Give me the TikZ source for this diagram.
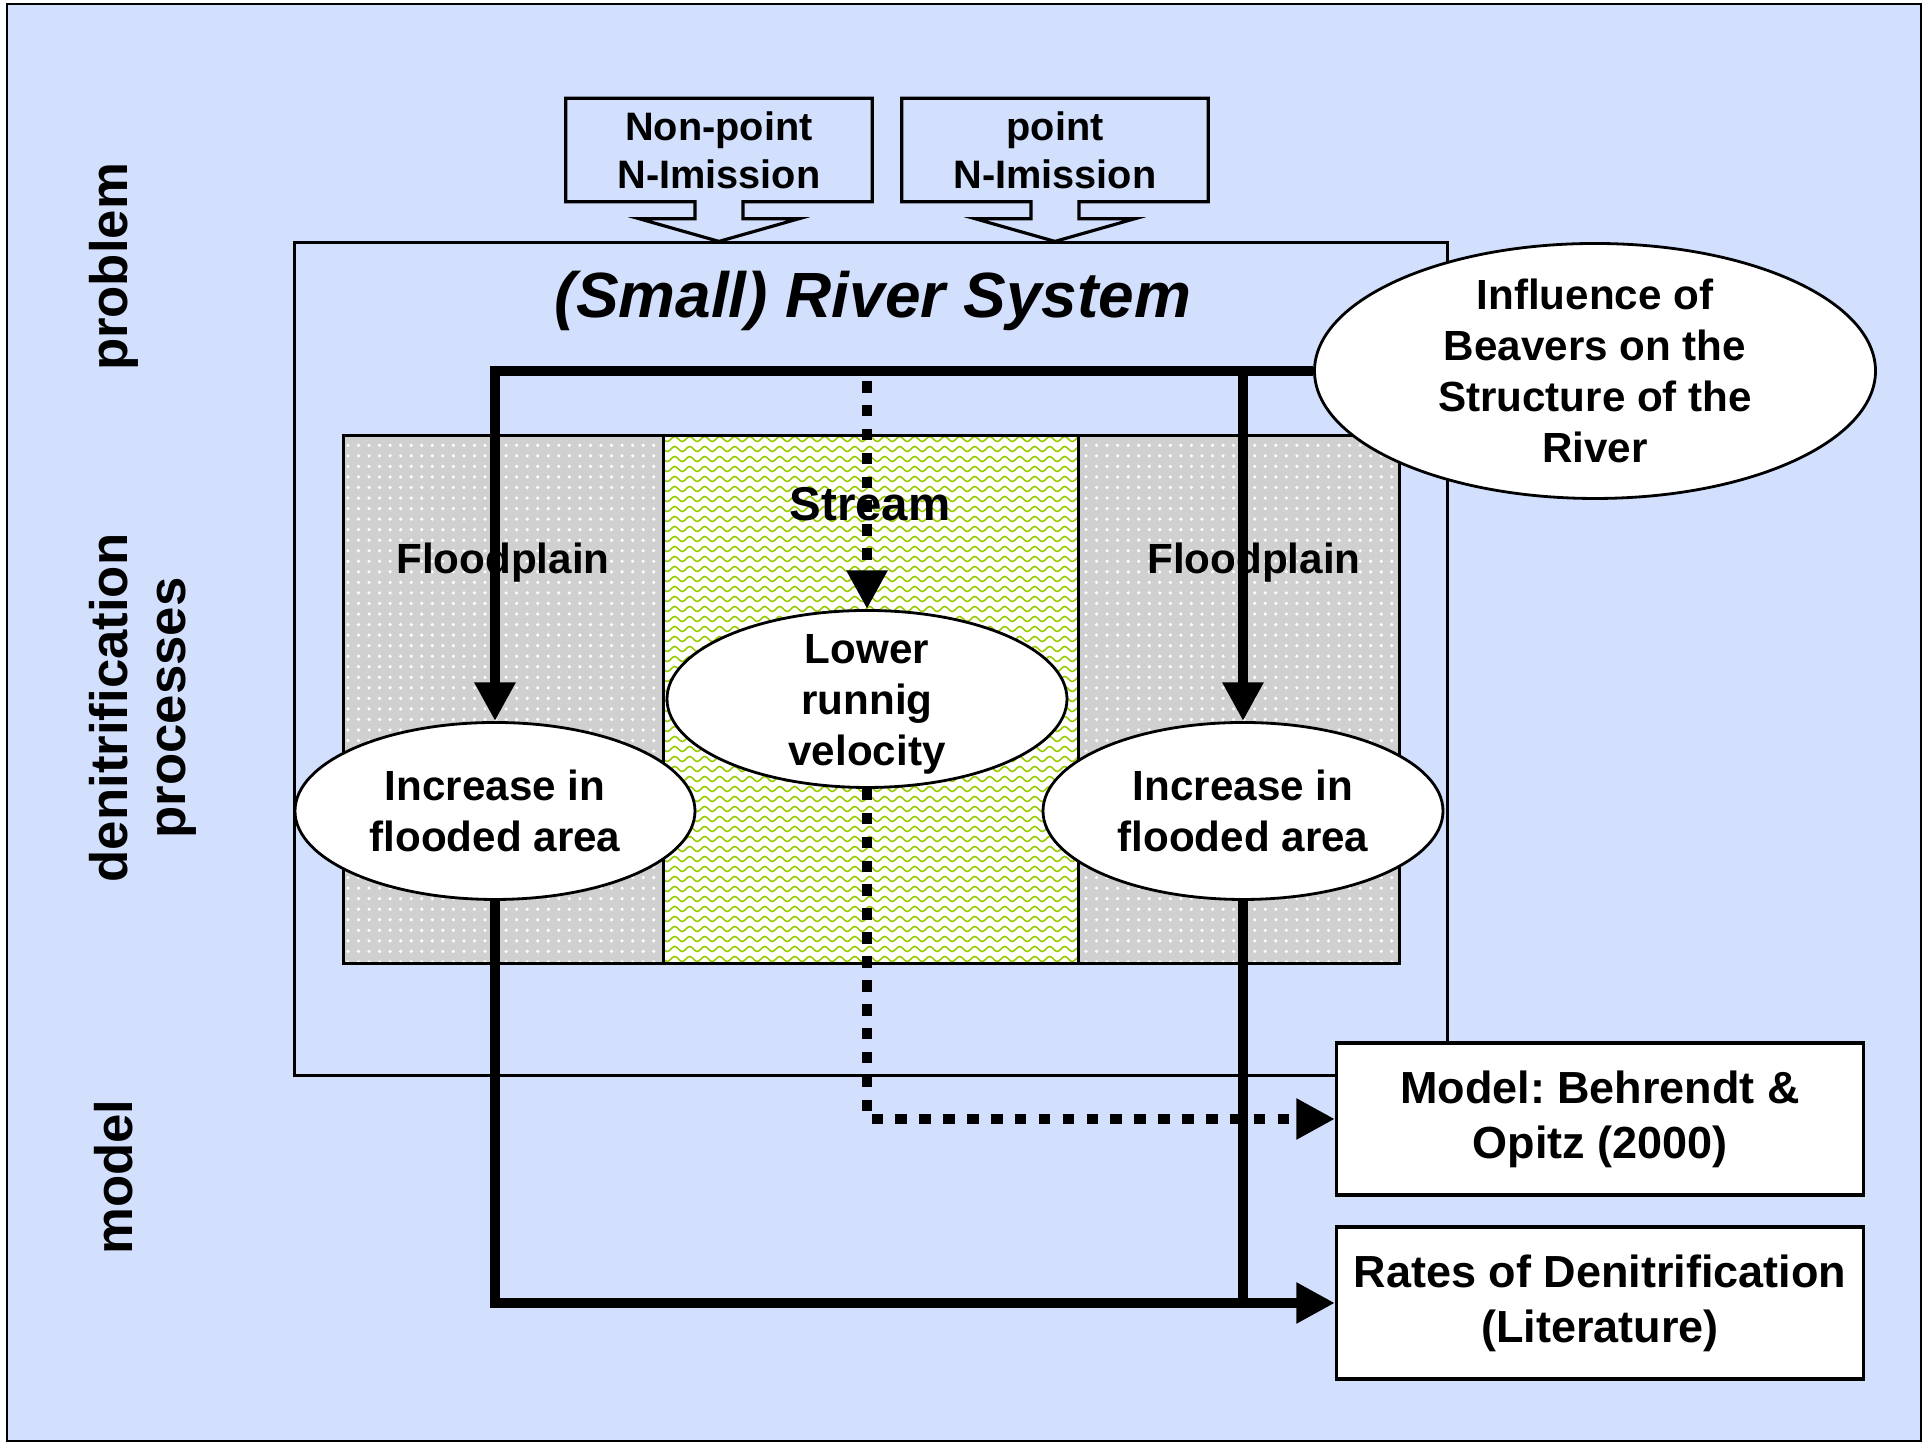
\documentclass[tikz,border=0pt]{standalone}
\usepackage{fontspec}
\setmainfont{Liberation Sans}
\usetikzlibrary{shapes.geometric, arrows.meta, patterns, decorations.pathmorphing, positioning}
\frenchspacing

\definecolor{sheet}{RGB}{210,224,254}
\definecolor{wavegreen}{RGB}{153,204,0}
\definecolor{plaingray}{RGB}{208,208,208}

\tikzset{
	sidelabel/.style={rotate=90, align=center, font=\fontsize{15}{16.4}\selectfont\bfseries},
	emission/.style={minimum width=3.05cm, minimum height=1.02cm, inner sep=0pt, align=center,
		font=\fontsize{11.3}{13.6}\selectfont\bfseries},
	callout/.style={line width=0.9pt},
	area/.style={draw, line width=0.8pt},
	arealabel/.style={font=\fontsize{12}{14.5}\selectfont\bfseries},
	wave/.style={wavegreen, line width=0.45pt, decorate,
		decoration={snake, amplitude=0.25mm, segment length=1.5mm}},
	effect/.style={ellipse, draw, fill=white, line width=0.8pt, inner sep=0pt},
	effecttext/.style={align=center, font=\fontsize{12}{14.5}\selectfont\bfseries},
	result/.style={draw, fill=white, line width=0.9pt, minimum width=5.27cm, minimum height=1.52cm,
		align=center, font=\fontsize{12.8}{15.6}\selectfont\bfseries},
	flow/.style={line width=3.1pt, -{Triangle[length=11pt,width=11pt]}},
	dotflow/.style={flow, dash pattern=on 3.3pt off 3.5pt},
	bar/.style={line width=3.1pt}
}

\begin{document}
\begin{tikzpicture}
		\useasboundingbox (0,0) rectangle (19.22,14.47);
		% sheet
		\fill[white] (0,0) rectangle (19.22,14.47);
		\draw[fill=sheet, line width=0.8pt] (0.07,0.06) rectangle (19.21,14.43);
		% row labels
		\node[sidelabel] (problem) at (1.14,11.80) {problem};
		\node[sidelabel] (process) at (1.43,7.39) {denitrification\\processes};
		\node[sidelabel] (modelrow) at (1.14,2.70) {model};
		% river system
		\node[draw, line width=0.8pt, minimum width=11.535cm, minimum height=8.323cm] (river) at (8.71,7.88) {};
		\node[font=\fontsize{18.2}{22}\selectfont\bfseries\itshape] (title) at (8.73,11.46) {(Small) River System};
		% N sources
		\node[emission] (nonpointsrc) at (7.19,12.97) {Non-point\\N-Imission};
		\node[emission] (pointsrc) at (10.55,12.97) {point\\N-Imission};
		\foreach \src in {nonpointsrc, pointsrc}
		{
			\draw[callout] (\src.south west) -- (\src.north west) -- (\src.north east) -- (\src.south east)
				-- ([xshift=2.4mm]\src.south) -- ([shift={(2.4mm,-1.7mm)}]\src.south)
				-- ([shift={(8.0mm,-1.7mm)}]\src.south) -- (\src.south |- river.north)
				-- ([shift={(-8.0mm,-1.7mm)}]\src.south) -- ([shift={(-2.4mm,-1.7mm)}]\src.south)
				-- ([xshift=-2.4mm]\src.south) -- cycle;
		}
		% floodplains and stream
		\foreach \xa/\xb in {3.432/6.632, 10.787/13.998}
		{
			\fill[plaingray] (\xa,4.835) rectangle (\xb,10.118);
			\fill[pattern=dots, pattern color=white] (\xa,4.835) rectangle (\xb,10.118);
			\draw[area] (\xa,4.835) rectangle (\xb,10.118);
		}
		\fill[white] (6.632,4.835) rectangle (10.787,10.118);
		\begin{scope}
			\clip (6.632,4.835) rectangle (10.787,10.118);
			\foreach \y in {4.88,4.98,...,10.10}
			{
				\draw[wave] (6.55,\y) -- (10.85,\y);
			}
		\end{scope}
		\draw[area] (6.632,4.835) rectangle (10.787,10.118);
		\node[arealabel] (leftplain) at (5.03,8.84) {Floodplain};
		\node[arealabel] (rightplain) at (12.54,8.84) {Floodplain};
		\node[font=\fontsize{13.5}{16}\selectfont\bfseries] (stream) at (8.70,9.43) {Stream};
		% effects
		\node[effect, minimum width=5.61cm, minimum height=2.55cm] (beaver) at (15.95,10.76) {};
		\node[effect, minimum width=4.0cm, minimum height=1.77cm] (slow) at (8.67,7.48) {};
		\node[effect, minimum width=4.0cm, minimum height=1.77cm] (leftinc) at (4.95,6.36) {};
		\node[effect, minimum width=4.0cm, minimum height=1.77cm] (rightinc) at (12.43,6.36) {};
		% results
		\node[result] (model) at (16.0,3.28) {Model: Behrendt \&\\Opitz (2000)};
		\node[result] (rates) at (16.0,1.44) {Rates of Denitrification\\(Literature)};
		% arrows
		\draw[flow] (beaver.west) -| (leftinc.north);
		\coordinate (fork) at (beaver.west -| rightinc.north);
		\draw[flow] (fork) -- (rightinc.north);
		\coordinate (dotfork) at ([yshift=-1mm]beaver.west -| slow.north);
		\draw[dotflow] (dotfork) -- (slow.north);
		\draw[flow] (leftinc.south) |- (rates.west);
		\draw[bar] (rightinc.south) -- (rightinc.south |- rates.west);
		\draw[dotflow] (slow.south) |- (model.west);
		% effect texts
		\node[effecttext] (beavertext) at (beaver) {Influence of\\Beavers on the\\Structure of the\\River};
		\node[effecttext] (slowtext) at ([yshift=-0.5mm]slow) {Lower\\runnig\\velocity};
		\node[effecttext] (lefttext) at (leftinc) {Increase in\\flooded area};
		\node[effecttext] (righttext) at (rightinc) {Increase in\\flooded area};
	\end{tikzpicture}
\end{document}
